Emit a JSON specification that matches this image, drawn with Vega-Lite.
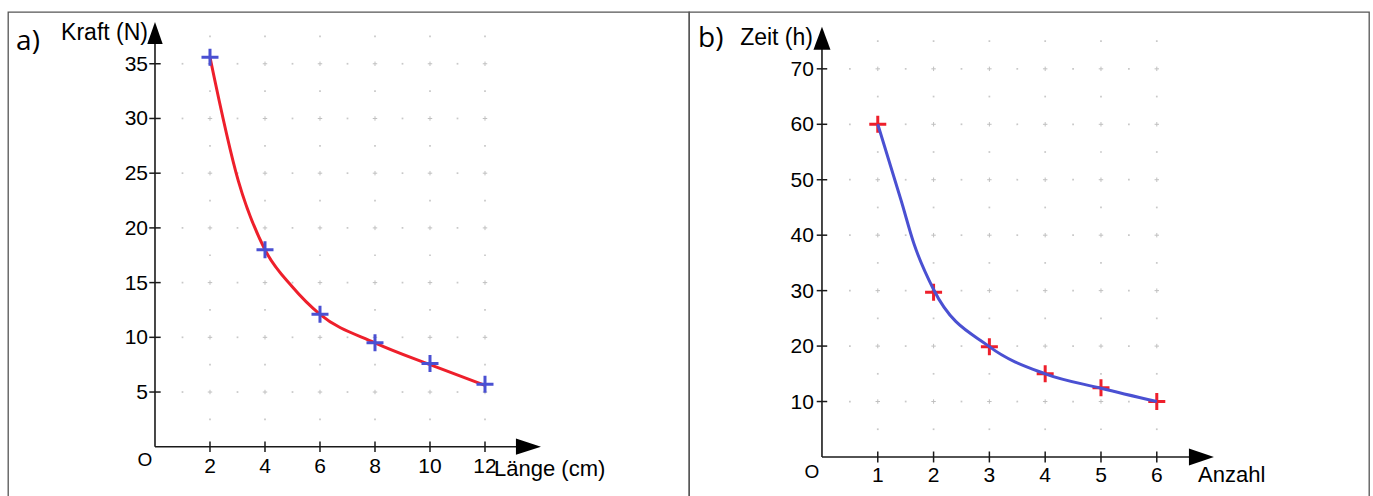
{
  "$schema": "https://vega.github.io/schema/vega-lite/v6.json",
  "padding": {"left": 7, "top": 11, "right": 0, "bottom": 0},
  "spacing": 0,
  "bounds": "flush",
  "background": "white",
  "config": {"view": {"stroke": "#555555", "strokeWidth": 1.3}},
  "datasets": {
    "gAM": [
      {"x":2,"y":5},{"x":4,"y":5},{"x":6,"y":5},{"x":8,"y":5},{"x":10,"y":5},{"x":12,"y":5},
      {"x":2,"y":10},{"x":4,"y":10},{"x":6,"y":10},{"x":8,"y":10},{"x":10,"y":10},{"x":12,"y":10},
      {"x":2,"y":15},{"x":4,"y":15},{"x":6,"y":15},{"x":8,"y":15},{"x":10,"y":15},{"x":12,"y":15},
      {"x":2,"y":20},{"x":4,"y":20},{"x":6,"y":20},{"x":8,"y":20},{"x":10,"y":20},{"x":12,"y":20},
      {"x":2,"y":25},{"x":4,"y":25},{"x":6,"y":25},{"x":8,"y":25},{"x":10,"y":25},{"x":12,"y":25},
      {"x":2,"y":30},{"x":4,"y":30},{"x":6,"y":30},{"x":8,"y":30},{"x":10,"y":30},{"x":12,"y":30},
      {"x":2,"y":35},{"x":4,"y":35},{"x":6,"y":35},{"x":8,"y":35},{"x":10,"y":35},{"x":12,"y":35}
    ],
    "gAm": [
      {"x":1,"y":5},{"x":3,"y":5},{"x":5,"y":5},{"x":7,"y":5},{"x":9,"y":5},{"x":11,"y":5},
      {"x":1,"y":10},{"x":3,"y":10},{"x":5,"y":10},{"x":7,"y":10},{"x":9,"y":10},{"x":11,"y":10},
      {"x":1,"y":15},{"x":3,"y":15},{"x":5,"y":15},{"x":7,"y":15},{"x":9,"y":15},{"x":11,"y":15},
      {"x":1,"y":20},{"x":3,"y":20},{"x":5,"y":20},{"x":7,"y":20},{"x":9,"y":20},{"x":11,"y":20},
      {"x":1,"y":25},{"x":3,"y":25},{"x":5,"y":25},{"x":7,"y":25},{"x":9,"y":25},{"x":11,"y":25},
      {"x":1,"y":30},{"x":3,"y":30},{"x":5,"y":30},{"x":7,"y":30},{"x":9,"y":30},{"x":11,"y":30},
      {"x":1,"y":35},{"x":3,"y":35},{"x":5,"y":35},{"x":7,"y":35},{"x":9,"y":35},{"x":11,"y":35},
      {"x":2,"y":2.5},{"x":4,"y":2.5},{"x":6,"y":2.5},{"x":8,"y":2.5},{"x":10,"y":2.5},{"x":12,"y":2.5},
      {"x":2,"y":7.5},{"x":4,"y":7.5},{"x":6,"y":7.5},{"x":8,"y":7.5},{"x":10,"y":7.5},{"x":12,"y":7.5},
      {"x":2,"y":12.5},{"x":4,"y":12.5},{"x":6,"y":12.5},{"x":8,"y":12.5},{"x":10,"y":12.5},{"x":12,"y":12.5},
      {"x":2,"y":17.5},{"x":4,"y":17.5},{"x":6,"y":17.5},{"x":8,"y":17.5},{"x":10,"y":17.5},{"x":12,"y":17.5},
      {"x":2,"y":22.5},{"x":4,"y":22.5},{"x":6,"y":22.5},{"x":8,"y":22.5},{"x":10,"y":22.5},{"x":12,"y":22.5},
      {"x":2,"y":27.5},{"x":4,"y":27.5},{"x":6,"y":27.5},{"x":8,"y":27.5},{"x":10,"y":27.5},{"x":12,"y":27.5},
      {"x":2,"y":32.5},{"x":4,"y":32.5},{"x":6,"y":32.5},{"x":8,"y":32.5},{"x":10,"y":32.5},{"x":12,"y":32.5},
      {"x":2,"y":37.5},{"x":4,"y":37.5},{"x":6,"y":37.5},{"x":8,"y":37.5},{"x":10,"y":37.5},{"x":12,"y":37.5}
    ],
    "gBM": [
      {"x":1,"y":10},{"x":2,"y":10},{"x":3,"y":10},{"x":4,"y":10},{"x":5,"y":10},{"x":6,"y":10},
      {"x":1,"y":20},{"x":2,"y":20},{"x":3,"y":20},{"x":4,"y":20},{"x":5,"y":20},{"x":6,"y":20},
      {"x":1,"y":30},{"x":2,"y":30},{"x":3,"y":30},{"x":4,"y":30},{"x":5,"y":30},{"x":6,"y":30},
      {"x":1,"y":40},{"x":2,"y":40},{"x":3,"y":40},{"x":4,"y":40},{"x":5,"y":40},{"x":6,"y":40},
      {"x":1,"y":50},{"x":2,"y":50},{"x":3,"y":50},{"x":4,"y":50},{"x":5,"y":50},{"x":6,"y":50},
      {"x":1,"y":60},{"x":2,"y":60},{"x":3,"y":60},{"x":4,"y":60},{"x":5,"y":60},{"x":6,"y":60},
      {"x":1,"y":70},{"x":2,"y":70},{"x":3,"y":70},{"x":4,"y":70},{"x":5,"y":70},{"x":6,"y":70}
    ],
    "gBm": [
      {"x":0.5,"y":10},{"x":1.5,"y":10},{"x":2.5,"y":10},{"x":3.5,"y":10},{"x":4.5,"y":10},{"x":5.5,"y":10},
      {"x":0.5,"y":20},{"x":1.5,"y":20},{"x":2.5,"y":20},{"x":3.5,"y":20},{"x":4.5,"y":20},{"x":5.5,"y":20},
      {"x":0.5,"y":30},{"x":1.5,"y":30},{"x":2.5,"y":30},{"x":3.5,"y":30},{"x":4.5,"y":30},{"x":5.5,"y":30},
      {"x":0.5,"y":40},{"x":1.5,"y":40},{"x":2.5,"y":40},{"x":3.5,"y":40},{"x":4.5,"y":40},{"x":5.5,"y":40},
      {"x":0.5,"y":50},{"x":1.5,"y":50},{"x":2.5,"y":50},{"x":3.5,"y":50},{"x":4.5,"y":50},{"x":5.5,"y":50},
      {"x":0.5,"y":60},{"x":1.5,"y":60},{"x":2.5,"y":60},{"x":3.5,"y":60},{"x":4.5,"y":60},{"x":5.5,"y":60},
      {"x":0.5,"y":70},{"x":1.5,"y":70},{"x":2.5,"y":70},{"x":3.5,"y":70},{"x":4.5,"y":70},{"x":5.5,"y":70},
      {"x":1,"y":5},{"x":2,"y":5},{"x":3,"y":5},{"x":4,"y":5},{"x":5,"y":5},{"x":6,"y":5},
      {"x":1,"y":15},{"x":2,"y":15},{"x":3,"y":15},{"x":4,"y":15},{"x":5,"y":15},{"x":6,"y":15},
      {"x":1,"y":25},{"x":2,"y":25},{"x":3,"y":25},{"x":4,"y":25},{"x":5,"y":25},{"x":6,"y":25},
      {"x":1,"y":35},{"x":2,"y":35},{"x":3,"y":35},{"x":4,"y":35},{"x":5,"y":35},{"x":6,"y":35},
      {"x":1,"y":45},{"x":2,"y":45},{"x":3,"y":45},{"x":4,"y":45},{"x":5,"y":45},{"x":6,"y":45},
      {"x":1,"y":55},{"x":2,"y":55},{"x":3,"y":55},{"x":4,"y":55},{"x":5,"y":55},{"x":6,"y":55},
      {"x":1,"y":65},{"x":2,"y":65},{"x":3,"y":65},{"x":4,"y":65},{"x":5,"y":65},{"x":6,"y":65},
      {"x":1,"y":75},{"x":2,"y":75},{"x":3,"y":75},{"x":4,"y":75},{"x":5,"y":75},{"x":6,"y":75}
    ],
    "pA": [
      {"x":2,"y":35.6},{"x":4,"y":18.0},{"x":6,"y":12.1},{"x":8,"y":9.5},{"x":10,"y":7.6},{"x":12,"y":5.7}
    ],
    "cA": [
      {"x":2,"y":35.6},{"x":3.03,"y":24.3},{"x":4,"y":18.0},{"x":5,"y":14.6},{"x":6,"y":12.1},{"x":8,"y":9.5},{"x":10,"y":7.5},{"x":12,"y":5.6}
    ],
    "pB": [
      {"x":1,"y":60},{"x":2,"y":29.7},{"x":3,"y":19.9},{"x":4,"y":15.0},{"x":5,"y":12.5},{"x":6,"y":10}
    ],
    "cB": [
      {"x":1,"y":60},{"x":1.42,"y":46.2},{"x":1.65,"y":38.4},{"x":2,"y":30.2},{"x":3,"y":19.9},{"x":4,"y":15.0},{"x":5,"y":12.4},{"x":6,"y":10}
    ],
    "axA": [{"x":0,"y":0,"x2":13.4,"y2":0},{"x":0,"y":0,"x2":0,"y2":37}],
    "axB": [{"x":0,"y":0,"x2":6.7,"y2":0},{"x":0,"y":0,"x2":0,"y2":75}],
    "arAr": [{"x":13.58,"y":0}],
    "arAu": [{"x":0,"y":37.8}],
    "arBr": [{"x":6.8,"y":0}],
    "arBu": [{"x":0,"y":75.5}],
    "tAx": [{"x":2,"y":0,"t":"2"},{"x":4,"y":0,"t":"4"},{"x":6,"y":0,"t":"6"},{"x":8,"y":0,"t":"8"},{"x":10,"y":0,"t":"10"},{"x":12,"y":0,"t":"12"}],
    "tAy": [{"x":0,"y":5,"t":"5"},{"x":0,"y":10,"t":"10"},{"x":0,"y":15,"t":"15"},{"x":0,"y":20,"t":"20"},{"x":0,"y":25,"t":"25"},{"x":0,"y":30,"t":"30"},{"x":0,"y":35,"t":"35"}],
    "tBx": [{"x":1,"y":0,"t":"1"},{"x":2,"y":0,"t":"2"},{"x":3,"y":0,"t":"3"},{"x":4,"y":0,"t":"4"},{"x":5,"y":0,"t":"5"},{"x":6,"y":0,"t":"6"}],
    "tBy": [{"x":0,"y":10,"t":"10"},{"x":0,"y":20,"t":"20"},{"x":0,"y":30,"t":"30"},{"x":0,"y":40,"t":"40"},{"x":0,"y":50,"t":"50"},{"x":0,"y":60,"t":"60"},{"x":0,"y":70,"t":"70"}],
    "ytA": [{"x":0,"y":37.8,"t":"Kraft (N)"}],
    "xtA": [{"x":12.33,"y":0,"t":"Länge (cm)"}],
    "oA": [{"x":0,"y":0,"t":"O"}],
    "lA": [{"x":-5.05,"y":37.0,"t":"a)"}],
    "ytB": [{"x":0,"y":75.6,"t":"Zeit (h)"}],
    "xtB": [{"x":6.74,"y":0,"t":"Anzahl"}],
    "oB": [{"x":0,"y":0,"t":"O"}],
    "lB": [{"x":-2.22,"y":75.4,"t":"b)"}]
  },
  "hconcat": [
    {
      "width": 681,
      "height": 490,
      "encoding": {
        "x": {"field": "x", "type": "quantitative", "scale": {"domain": [-5.345, 19.418], "nice": false, "zero": false}, "axis": null},
        "y": {"field": "y", "type": "quantitative", "scale": {"domain": [-5.05, 39.73], "nice": false, "zero": false}, "axis": null}
      },
      "layer": [
        {"data": {"name": "gAm"}, "mark": {"type": "point", "shape": "square", "size": 3, "filled": true, "color": "#c8c8c8", "opacity": 1}},
        {"data": {"name": "gAM"}, "mark": {"type": "point", "shape": "M-1,0H1M0,-1V1", "size": 20, "filled": false, "color": "#c0c0c0", "strokeWidth": 1, "opacity": 1}},
        {"data": {"name": "axA"}, "mark": {"type": "rule", "color": "#1a1a1a", "strokeWidth": 1.6}, "encoding": {"x2": {"field": "x2"}, "y2": {"field": "y2"}}},
        {"data": {"name": "arAr"}, "mark": {"type": "point", "shape": "M1,0L-1,-0.65L-1,0.65Z", "size": 625, "filled": true, "color": "#000000", "strokeWidth": 0, "opacity": 1}},
        {"data": {"name": "arAu"}, "mark": {"type": "point", "shape": "M0,-1L-0.7,1L0.7,1Z", "size": 484, "filled": true, "color": "#000000", "strokeWidth": 0, "opacity": 1}},
        {"data": {"name": "tAx"}, "mark": {"type": "point", "shape": "M0,-1V1", "size": 110, "filled": false, "color": "#1a1a1a", "strokeWidth": 1.5, "opacity": 1}},
        {"data": {"name": "tAy"}, "mark": {"type": "point", "shape": "M-1,0H1", "size": 130, "filled": false, "color": "#1a1a1a", "strokeWidth": 1.5, "opacity": 1}},
        {"data": {"name": "tAx"}, "mark": {"type": "text", "font": "Liberation Sans", "fontSize": 21, "align": "center", "baseline": "alphabetic", "dy": 26, "color": "#000000"}, "encoding": {"text": {"field": "t"}}},
        {"data": {"name": "tAy"}, "mark": {"type": "text", "font": "Liberation Sans", "fontSize": 21, "align": "right", "baseline": "middle", "dx": -7, "dy": 1, "color": "#000000"}, "encoding": {"text": {"field": "t"}}},
        {"data": {"name": "ytA"}, "mark": {"type": "text", "font": "Liberation Sans", "fontSize": 23, "align": "right", "baseline": "middle", "dx": -7, "color": "#000000"}, "encoding": {"text": {"field": "t"}}},
        {"data": {"name": "xtA"}, "mark": {"type": "text", "font": "Liberation Sans", "fontSize": 22, "align": "left", "baseline": "alphabetic", "dy": 29, "color": "#000000"}, "encoding": {"text": {"field": "t"}}},
        {"data": {"name": "oA"}, "mark": {"type": "text", "font": "Liberation Sans", "fontSize": 19, "align": "center", "baseline": "alphabetic", "dx": -10, "dy": 19, "color": "#000000"}, "encoding": {"text": {"field": "t"}}},
        {"data": {"name": "lA"}, "mark": {"type": "text", "font": "Open Sans", "fontSize": 28, "align": "left", "baseline": "middle", "color": "#000000"}, "encoding": {"text": {"field": "t"}}},
        {"data": {"name": "cA"}, "mark": {"type": "line", "interpolate": "monotone", "color": "#ee1f2b", "strokeWidth": 3}},
        {"data": {"name": "pA"}, "mark": {"type": "point", "shape": "M-1,0H1M0,-1V1", "size": 289, "filled": false, "color": "#4a50d2", "strokeWidth": 3, "opacity": 1}}
      ]
    },
    {
      "width": 680,
      "height": 490,
      "encoding": {
        "x": {"field": "x", "type": "quantitative", "scale": {"domain": [-2.383, 9.803], "nice": false, "zero": false}, "axis": null},
        "y": {"field": "y", "type": "quantitative", "scale": {"domain": [-8.12, 80.25], "nice": false, "zero": false}, "axis": null}
      },
      "layer": [
        {"data": {"name": "gBm"}, "mark": {"type": "point", "shape": "square", "size": 3, "filled": true, "color": "#c8c8c8", "opacity": 1}},
        {"data": {"name": "gBM"}, "mark": {"type": "point", "shape": "M-1,0H1M0,-1V1", "size": 20, "filled": false, "color": "#c0c0c0", "strokeWidth": 1, "opacity": 1}},
        {"data": {"name": "axB"}, "mark": {"type": "rule", "color": "#1a1a1a", "strokeWidth": 1.6}, "encoding": {"x2": {"field": "x2"}, "y2": {"field": "y2"}}},
        {"data": {"name": "arBr"}, "mark": {"type": "point", "shape": "M1,0L-1,-0.68L-1,0.68Z", "size": 625, "filled": true, "color": "#000000", "strokeWidth": 0, "opacity": 1}},
        {"data": {"name": "arBu"}, "mark": {"type": "point", "shape": "M0,-1L-0.74,1L0.74,1Z", "size": 529, "filled": true, "color": "#000000", "strokeWidth": 0, "opacity": 1}},
        {"data": {"name": "tBx"}, "mark": {"type": "point", "shape": "M0,-1V1", "size": 120, "filled": false, "color": "#1a1a1a", "strokeWidth": 1.5, "opacity": 1}},
        {"data": {"name": "tBy"}, "mark": {"type": "point", "shape": "M-1,0H1", "size": 110, "filled": false, "color": "#1a1a1a", "strokeWidth": 1.5, "opacity": 1}},
        {"data": {"name": "tBx"}, "mark": {"type": "text", "font": "Liberation Sans", "fontSize": 21, "align": "center", "baseline": "alphabetic", "dy": 25, "color": "#000000"}, "encoding": {"text": {"field": "t"}}},
        {"data": {"name": "tBy"}, "mark": {"type": "text", "font": "Liberation Sans", "fontSize": 21, "align": "right", "baseline": "middle", "dx": -8, "dy": 1, "color": "#000000"}, "encoding": {"text": {"field": "t"}}},
        {"data": {"name": "ytB"}, "mark": {"type": "text", "font": "Liberation Sans", "fontSize": 23, "align": "right", "baseline": "middle", "dx": -9, "color": "#000000"}, "encoding": {"text": {"field": "t"}}},
        {"data": {"name": "xtB"}, "mark": {"type": "text", "font": "Liberation Sans", "fontSize": 22, "align": "left", "baseline": "alphabetic", "dy": 25, "color": "#000000"}, "encoding": {"text": {"field": "t"}}},
        {"data": {"name": "oB"}, "mark": {"type": "text", "font": "Liberation Sans", "fontSize": 19, "align": "center", "baseline": "alphabetic", "dx": -10, "dy": 21, "color": "#000000"}, "encoding": {"text": {"field": "t"}}},
        {"data": {"name": "lB"}, "mark": {"type": "text", "font": "Open Sans", "fontSize": 28, "align": "left", "baseline": "middle", "color": "#000000"}, "encoding": {"text": {"field": "t"}}},
        {"data": {"name": "pB"}, "mark": {"type": "point", "shape": "M-1,0H1M0,-1V1", "size": 289, "filled": false, "color": "#ee1f2b", "strokeWidth": 3, "opacity": 1}},
        {"data": {"name": "cB"}, "mark": {"type": "line", "interpolate": "monotone", "color": "#4a50d2", "strokeWidth": 3}}
      ]
    }
  ]
}
